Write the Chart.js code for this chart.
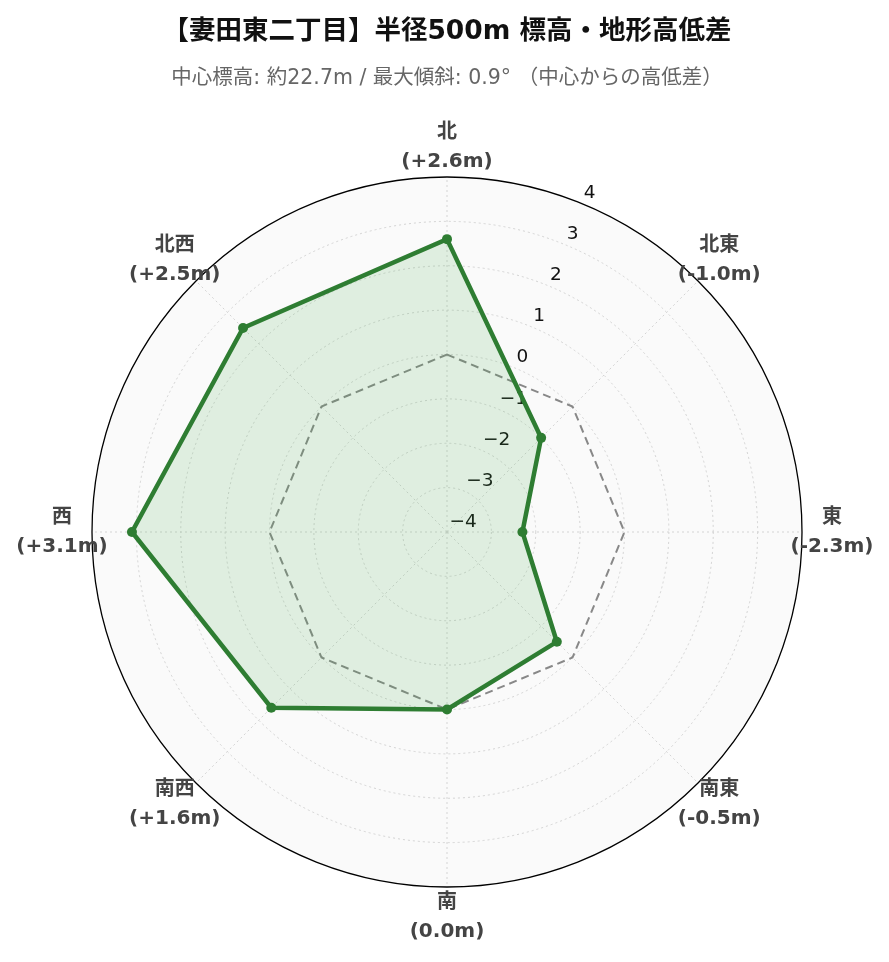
<!DOCTYPE html>
<html>
<head>
<meta charset="utf-8">
<script src="https://cdn.jsdelivr.net/npm/chart.js@4.4.1/dist/chart.umd.min.js"></script>
<style>
  html, body { margin: 0; padding: 0; background: #fff; }
  #wrap { width: 889px; height: 962px; }
</style>
</head>
<body>
<div id="wrap"><canvas id="chart"></canvas></div>
<script>
const directions = ['北', '北東', '東', '南東', '南', '南西', '西', '北西'];
const diffValues = [2.6, -1.0, -2.3, -0.5, 0.0, 1.6, 3.1, 2.5];
const zeroLine = [0, 0, 0, 0, 0, 0, 0, 0];
const radialTicks = [-4, -3, -2, -1, 0, 1, 2, 3, 4];

const titleText = '【妻田東二丁目】半径500m 標高・地形高低差';
const subtitleText = '中心標高: 約22.7m / 最大傾斜: 0.9° （中心からの高低差）';

const FONT = '"DejaVu Sans", "Noto Sans CJK JP", sans-serif';

const fmtDiff = (v) => {
  const s = v.toFixed(1);
  return '(' + (v > 0 ? '+' + s : s) + 'm)';
};

// plot background inside the circle
const polarBackground = {
  id: 'polarBackground',
  beforeDraw(chart) {
    const r = chart.scales.r;
    const ctx = chart.ctx;
    ctx.save();
    ctx.fillStyle = '#fafafa';
    ctx.beginPath();
    ctx.arc(r.xCenter, r.yCenter, r.drawingArea, 0, Math.PI * 2);
    ctx.fill();
    ctx.restore();
  },
};

// radial tick labels along a tilted axis (like the original)
const tiltedTicks = {
  id: 'tiltedTicks',
  beforeDatasetsDraw(chart) {
    const r = chart.scales.r;
    const ctx = chart.ctx;
    const a = 22.2 * Math.PI / 180;
    ctx.save();
    ctx.font = '18.5px ' + FONT;
    ctx.fillStyle = '#111';
    ctx.textAlign = 'left';
    ctx.textBaseline = 'middle';
    radialTicks.forEach((v) => {
      const d = r.getDistanceFromCenterForValue(v);
      const x = r.xCenter + d * Math.sin(a) + 2.5;
      const y = r.yCenter - d * Math.cos(a) - 10;
      ctx.fillText(String(v).replace('-', '\u2212'), x, y);
    });
    ctx.restore();
  },
};

// direction labels, centred on a ring just outside the circle
const directionLabels = {
  id: 'directionLabels',
  afterDraw(chart) {
    const r = chart.scales.r;
    const ctx = chart.ctx;
    ctx.save();
    ctx.font = 'bold 20px ' + FONT;
    ctx.fillStyle = '#444';
    ctx.textAlign = 'center';
    ctx.textBaseline = 'middle';
    directions.forEach((name, i) => {
      const p = r.getPointPosition(i, r.drawingArea + 30);
      ctx.fillText(name, p.x, p.y - 14);
      ctx.fillText(fmtDiff(diffValues[i]), p.x, p.y + 15);
    });
    ctx.restore();
  },
};

new Chart(document.getElementById('chart'), {
  type: 'radar',
  data: {
    labels: directions,
    datasets: [
      {
        label: '高低差',
        data: diffValues,
        borderColor: '#2e7d32',
        backgroundColor: 'rgba(76, 175, 80, 0.15)',
        borderWidth: 4.5,
        fill: 'start',
        pointRadius: 5,
        pointBackgroundColor: '#2e7d32',
        pointBorderColor: '#2e7d32',
        pointBorderWidth: 0,
      },
      {
        label: '基準 (0m)',
        data: zeroLine,
        borderColor: '#888',
        borderWidth: 2,
        borderDash: [8, 5],
        fill: false,
        pointRadius: 0,
      },
    ],
  },
  options: {
    responsive: true,
    maintainAspectRatio: false,
    animation: false,
    layout: { padding: { top: 0, left: 92, right: 87, bottom: 75 } },
    plugins: {
      legend: { display: false },
      tooltip: { enabled: false },
      title: {
        display: true,
        text: titleText,
        color: '#111',
        font: { family: FONT, size: 26.5, weight: 'bold', lineHeight: 1.2 },
        padding: { top: 16, bottom: 0 },
      },
      subtitle: {
        display: true,
        text: subtitleText,
        color: '#666',
        font: { family: FONT, size: 20.5, lineHeight: 1.2 },
        padding: { top: 19, bottom: 85.6 },
      },
    },
    scales: {
      r: {
        min: -4,
        max: 4,
        ticks: { display: false, stepSize: 1 },
        pointLabels: { display: false },
        angleLines: {
          display: true,
          color: '#d4d4d4',
          lineWidth: 1,
          borderDash: [2, 3],
        },
        grid: {
          circular: true,
          color: (ctx) => (ctx.tick && ctx.tick.value === 4 ? '#000' : '#d4d4d4'),
          lineWidth: (ctx) => (ctx.tick && ctx.tick.value === 4 ? 1.3 : 1),
        },
        border: {
          dash: (ctx) => (ctx.tick && ctx.tick.value === 4 ? [] : [2, 3]),
        },
      },
    },
  },
  plugins: [polarBackground, tiltedTicks, directionLabels],
});
</script>
</body>
</html>
